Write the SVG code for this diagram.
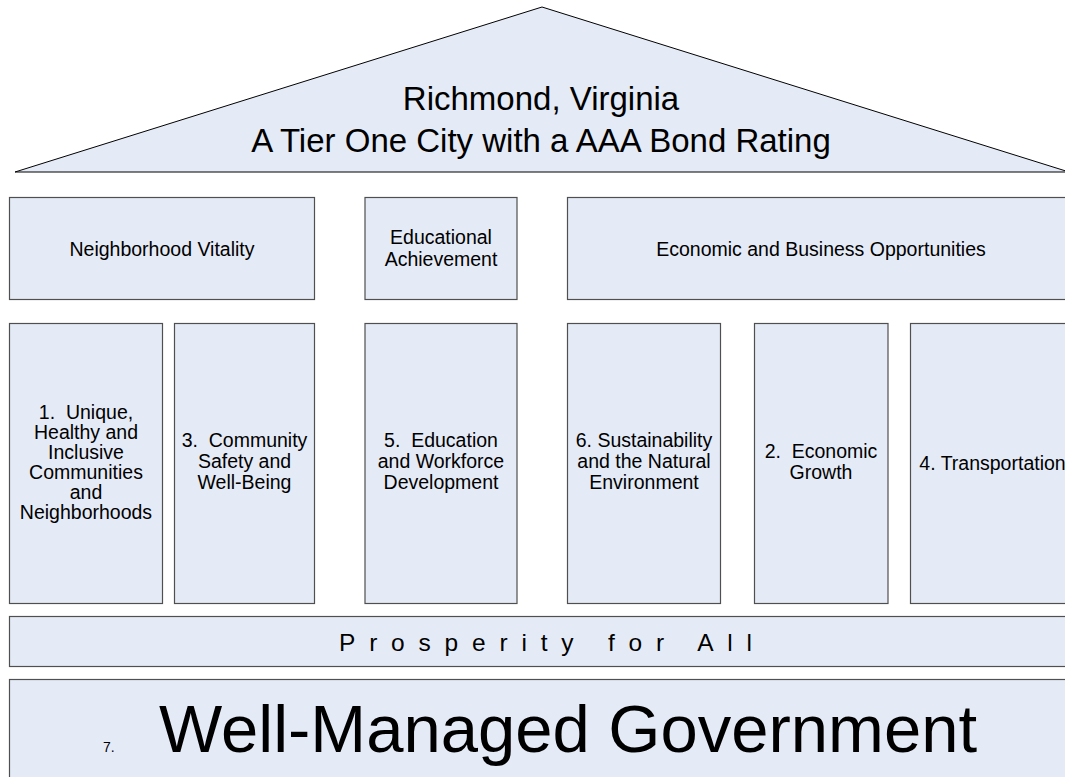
<svg xmlns="http://www.w3.org/2000/svg" width="1065" height="777" viewBox="0 0 1065 777">
  <style>
    .box { fill: #E5EBF6; stroke: #4F4F4F; stroke-width: 1.2; }
    .roof { fill: #E5EBF6; stroke: #000; stroke-width: 1; }
    .t { font-family: "Liberation Sans", Arial, sans-serif; fill: #000; text-anchor: middle; white-space: pre; }
    .s { font-size: 19.5px; }
  </style>
  <rect width="1065" height="777" fill="#FFFFFF"/>
  <g id="roof">
    <polygon class="roof" points="15,172 542,7 1069,172"/>
    <text class="t" x="541" y="110" font-size="33">Richmond, Virginia</text>
    <text class="t" x="541" y="152" font-size="33">A Tier One City with a AAA Bond Rating</text>
  </g>
  <g id="neighborhood-vitality">
    <rect class="box" x="9.5" y="197.5" width="305" height="102"/>
    <text class="t s" x="162" y="256">Neighborhood Vitality</text>
  </g>
  <g id="educational-achievement">
    <rect class="box" x="365" y="197.5" width="152" height="102"/>
    <text class="t s" x="441" y="244">Educational</text>
    <text class="t s" x="441" y="266">Achievement</text>
  </g>
  <g id="economic-business">
    <rect class="box" x="567.5" y="197.5" width="507" height="102"/>
    <text class="t s" x="821" y="256">Economic and Business Opportunities</text>
  </g>
  <g id="goal-1">
    <rect class="box" x="9.5" y="323.5" width="153" height="280"/>
    <text class="t s" x="86" y="419">1.  Unique,</text>
    <text class="t s" x="86" y="439">Healthy and</text>
    <text class="t s" x="86" y="459">Inclusive</text>
    <text class="t s" x="86" y="479">Communities</text>
    <text class="t s" x="86" y="499">and</text>
    <text class="t s" x="86" y="519">Neighborhoods</text>
  </g>
  <g id="goal-3">
    <rect class="box" x="174.5" y="323.5" width="140" height="280"/>
    <text class="t s" x="244.5" y="447">3.  Community</text>
    <text class="t s" x="244.5" y="468">Safety and</text>
    <text class="t s" x="244.5" y="489">Well-Being</text>
  </g>
  <g id="goal-5">
    <rect class="box" x="365" y="323.5" width="152" height="280"/>
    <text class="t s" x="441" y="447">5.  Education</text>
    <text class="t s" x="441" y="468">and Workforce</text>
    <text class="t s" x="441" y="489">Development</text>
  </g>
  <g id="goal-6">
    <rect class="box" x="567.5" y="323.5" width="153" height="280"/>
    <text class="t s" x="644" y="447">6. Sustainability</text>
    <text class="t s" x="644" y="468">and the Natural</text>
    <text class="t s" x="644" y="489">Environment</text>
  </g>
  <g id="goal-2">
    <rect class="box" x="754.5" y="323.5" width="133.5" height="280"/>
    <text class="t s" x="821" y="458">2.  Economic</text>
    <text class="t s" x="821" y="479">Growth</text>
  </g>
  <g id="goal-4">
    <rect class="box" x="910.5" y="323.5" width="164" height="280"/>
    <text class="t s" x="992.5" y="470">4. Transportation</text>
  </g>
  <g id="prosperity">
    <rect class="box" x="9.5" y="616.5" width="1065" height="50"/>
    <text x="339" y="651" font-family="Liberation Sans, Arial, sans-serif" font-size="24.5" letter-spacing="13.8">Prosperity for All</text>
  </g>
  <g id="goal-7">
    <rect class="box" x="9.5" y="679.5" width="1065" height="110"/>
    <text y="752" font-family="Liberation Sans, Arial, sans-serif"><tspan x="103" font-size="14">7.</tspan><tspan x="159" font-size="67">Well-Managed Government</tspan></text>
  </g>
  <g id="connectors"/>
</svg>
